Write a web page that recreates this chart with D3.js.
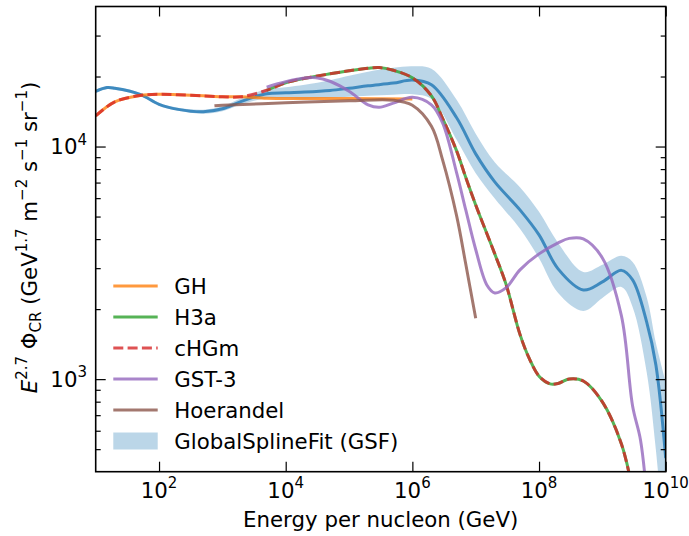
<!DOCTYPE html>
<html>
<head>
<meta charset="utf-8">
<script src="https://cdn.jsdelivr.net/npm/d3@7"></script>
<style>
  body { margin: 0; background: #fff; }
  text { font-family: "DejaVu Sans", sans-serif; fill: #000; }
</style>
</head>
<body>
<svg id="chart" width="689" height="536"></svg>
<script>
// values (energy per nucleon in GeV, E^2.7 flux)
var gsfEnergy = [1e1, 1.5e1, 2e1, 5e1, 1e2, 2e2, 5e2, 1e3, 2e3, 5e3, 1e4, 2e4, 5e4, 1e5, 2e5, 5e5,
                 1e6, 2e6, 5e6, 1e7, 2e7, 5e7, 1e8, 2e8, 5e8, 1e9, 2e9, 3e9, 5e9, 7e9, 1e10];
var gsfFlux  = [17260, 17920, 17800, 16770, 15190, 14450, 14100, 14530, 15650, 16850, 17020, 17140, 17410, 17800, 18240, 18740,
                19300, 18420, 13290, 9300, 7050, 5343, 4171, 2979, 2418, 2618, 2935, 2671, 1762, 1151, 458];
var gsfUpper = [17540, 18180, 18060, 17020, 15420, 14670, 14390, 14890, 16120, 17620, 17970, 18420, 19270, 20140, 20960, 21800,
                22130, 21590, 15880, 11360, 8568, 6689, 5238, 3853, 2890, 3100, 3390, 3190, 2257, 1431, 973];
var gsfLower = [17020, 17650, 17540, 16520, 14960, 14240, 13830, 14170, 15190, 16120, 16120, 16040, 16200, 16360, 16520, 16690,
                16770, 16000, 10690, 7683, 5980, 4429, 3308, 2348, 1965, 2235, 2491, 2044, 1074, 496, 167];

var ghEnergy = [1e1, 2e1, 5e1, 1e2, 2e2, 5e2, 1e3, 2e3, 5e3, 1e4, 1e5, 1e6];
var ghFlux   = [13550, 15570, 16570, 16770, 16690, 16520, 16360, 16360, 16120, 16100, 16070, 15990];

var h3aEnergy = [5e3, 1e4, 2e4, 5e4, 1e5, 2e5, 3e5, 5e5, 1e6, 2e6, 3e6, 5e6, 7e6, 1e7, 2e7, 3e7, 5e7, 7e7,
                 1e8, 1.5e8, 2e8, 3e8, 5e8, 1e9, 2e9, 3e9];
var h3aFlux   = [17450, 18790, 19650, 20540, 21160, 21700, 21850, 21270, 19750, 16520, 13220, 9580, 7335, 5610, 3455, 2567, 1558, 1228,
                 1030, 954, 958, 1002, 982, 798, 526, 334];

var chgmEnergy = [1e1, 2e1, 5e1, 1e2, 2e2, 5e2, 1e3, 2e3, 5e3, 1e4, 2e4, 5e4, 1e5, 2e5, 3e5, 5e5, 1e6, 2e6, 3e6, 5e6, 7e6,
                  1e7, 2e7, 3e7, 5e7, 7e7, 1e8, 1.5e8, 2e8, 3e8, 5e8, 1e9, 2e9, 3e9];
var chgmFlux   = [13550, 15570, 16570, 16770, 16690, 16520, 16360, 16360, 17450, 18790, 19650, 20540, 21160, 21700, 21850, 21270, 19750, 16520, 13220, 9580, 7335,
                  5610, 3455, 2567, 1558, 1228, 1030, 954, 958, 1002, 982, 798, 526, 334];

var gstEnergy = [5e3, 1e4, 2e4, 3e4, 5e4, 1e5, 2e5, 3e5, 5e5, 1e6, 2e6, 3e6, 5e6, 7e6, 1e7, 1.5e7, 2e7, 3e7, 5e7,
                 1e8, 2e8, 3e8, 5e8, 1e9, 2e9, 3e9, 4e9, 5e9];
var gstFlux   = [18010, 18980, 19690, 19750, 19080, 17280, 15110, 14740, 15370, 16280, 15110, 12650, 7706, 5311, 3609, 2541, 2348, 2467, 2949,
                 3455, 3853, 4029, 4009, 3320, 1870, 767, 548, 320];

var hoerEnergy = [7.5e2, 1e3, 1e4, 1e5, 5e5, 1e6, 2e6, 3e6, 5e6, 7e6, 1e7];
var hoerFlux   = [14960, 15040, 15420, 15720, 15830, 15040, 12220, 8766, 5034, 3100, 1828];

var xMajorTicks = [1e2, 1e4, 1e6, 1e8, 1e10];
var xTickExp = ["2", "4", "6", "8", "10"];
var yMajorTicks = [1e3, 1e4];
var yTickExp = ["3", "4"];
var yMinorTicks = [5e2, 6e2, 7e2, 8e2, 9e2, 2e3, 3e3, 4e3, 5e3, 6e3, 7e3, 8e3, 9e3, 2e4, 3e4];

var legendNames = ["GH", "H3a", "cHGm", "GST-3", "Hoerandel", "GlobalSplineFit (GSF)"];

// plot box in pixels (window.top is taken, hence the prefixes)
var boxLeft = 95.7, boxRight = 665.7, boxTop = 6.5, boxBottom = 471.7;
var fontBig = "21.3px", fontSup = "15px";

var svg = d3.select("#chart");
var x = d3.scaleLog().domain([1e1, 1e10]).range([boxLeft, boxRight]);
var y = d3.scaleLog().domain([400, 40000]).range([boxBottom, boxTop]);

svg.append("clipPath").attr("id", "plotclip")
  .append("rect").attr("x", boxLeft).attr("y", boxTop)
  .attr("width", boxRight - boxLeft).attr("height", boxBottom - boxTop);

var plot = svg.append("g").attr("clip-path", "url(#plotclip)");

// uncertainty band of the spline fit
var band = d3.area()
  .x(function(d) { return x(d[0]); })
  .y0(function(d) { return y(d[2]); })
  .y1(function(d) { return y(d[1]); })
  .curve(d3.curveCatmullRom.alpha(0.5));
plot.append("path")
  .datum(d3.zip(gsfEnergy, gsfUpper, gsfLower))
  .attr("d", band)
  .style("fill", "#1f77b4").style("fill-opacity", 0.3);

var line = d3.line()
  .x(function(d) { return x(d[0]); })
  .y(function(d) { return y(d[1]); })
  .curve(d3.curveCatmullRom.alpha(0.5));

function drawCurve(energy, flux, color, dash) {
  var p = plot.append("path")
    .datum(d3.zip(energy, flux))
    .attr("d", line)
    .style("fill", "none")
    .style("stroke", color)
    .style("stroke-opacity", 0.8)
    .style("stroke-width", 3);
  if (dash) p.style("stroke-dasharray", dash);
}

drawCurve(gsfEnergy, gsfFlux, "#1f77b4");
drawCurve(ghEnergy, ghFlux, "#ff7f0e");
drawCurve(h3aEnergy, h3aFlux, "#2ca02c");
drawCurve(chgmEnergy, chgmFlux, "#d62728", "10,4.3");
drawCurve(gstEnergy, gstFlux, "#9467bd");
drawCurve(hoerEnergy, hoerFlux, "#8c564b");

// ticks point inwards on all four sides
function styleAxis(g) {
  g.select(".domain").remove();
  g.selectAll(".tick line").style("stroke", "#000").style("stroke-width", 1.2);
}
svg.append("g").attr("transform", "translate(0," + boxBottom + ")")
  .call(d3.axisBottom(x).tickValues(xMajorTicks).tickSize(-10).tickFormat("")).call(styleAxis);
svg.append("g").attr("transform", "translate(0," + boxTop + ")")
  .call(d3.axisTop(x).tickValues(xMajorTicks).tickSize(-10).tickFormat("")).call(styleAxis);
svg.append("g").attr("transform", "translate(" + boxLeft + ",0)")
  .call(d3.axisLeft(y).tickValues(yMajorTicks).tickSize(-10).tickFormat("")).call(styleAxis);
svg.append("g").attr("transform", "translate(" + boxLeft + ",0)")
  .call(d3.axisLeft(y).tickValues(yMinorTicks).tickSize(-5).tickFormat("")).call(styleAxis);
svg.append("g").attr("transform", "translate(" + boxRight + ",0)")
  .call(d3.axisRight(y).tickValues(yMajorTicks).tickSize(-10).tickFormat("")).call(styleAxis);
svg.append("g").attr("transform", "translate(" + boxRight + ",0)")
  .call(d3.axisRight(y).tickValues(yMinorTicks).tickSize(-5).tickFormat("")).call(styleAxis);

svg.append("rect")
  .attr("x", boxLeft).attr("y", boxTop).attr("width", boxRight - boxLeft).attr("height", boxBottom - boxTop)
  .style("fill", "none").style("stroke", "#000").style("stroke-width", 1.6);

// tick labels as 10^n
xMajorTicks.forEach(function(v, i) {
  var t = svg.append("text").attr("x", x(v)).attr("y", 497.5)
    .attr("text-anchor", "middle").style("font-size", fontBig);
  t.append("tspan").text("10");
  t.append("tspan").attr("dy", -9.5).style("font-size", fontSup).text(xTickExp[i]);
});
yMajorTicks.forEach(function(v, i) {
  var t = svg.append("text").attr("x", 87).attr("y", y(v) + 7.6)
    .attr("text-anchor", "end").style("font-size", fontBig);
  t.append("tspan").text("10");
  t.append("tspan").attr("dy", -9.5).style("font-size", fontSup).text(yTickExp[i]);
});

svg.append("text").attr("x", (boxLeft + boxRight) / 2).attr("y", 526.7)
  .attr("text-anchor", "middle").style("font-size", fontBig)
  .text("Energy per nucleon (GeV)");

var ylab = svg.append("text")
  .attr("transform", "translate(36.5,237.5) rotate(-90)")
  .attr("text-anchor", "middle").style("font-size", fontBig);
ylab.append("tspan").style("font-style", "italic").text("E");
ylab.append("tspan").attr("dy", -9.5).style("font-size", fontSup).text("2.7");
ylab.append("tspan").attr("dy", 9.5).text(" \u03A6");
ylab.append("tspan").attr("dy", 4).style("font-size", fontSup).text("CR");
ylab.append("tspan").attr("dy", -4).text(" (GeV");
ylab.append("tspan").attr("dy", -9.5).style("font-size", fontSup).text("1.7");
ylab.append("tspan").attr("dy", 9.5).text(" m");
ylab.append("tspan").attr("dy", -9.5).style("font-size", fontSup).text("\u22122");
ylab.append("tspan").attr("dy", 9.5).text(" s");
ylab.append("tspan").attr("dy", -9.5).style("font-size", fontSup).text("\u22121");
ylab.append("tspan").attr("dy", 9.5).text(" sr");
ylab.append("tspan").attr("dy", -9.5).style("font-size", fontSup).text("\u22121");
ylab.append("tspan").attr("dy", 9.5).text(")");

// legend, no frame
var legendColors = ["#ff7f0e", "#2ca02c", "#d62728", "#9467bd", "#8c564b", "#1f77b4"];
var legend = svg.append("g");
legendNames.forEach(function(name, i) {
  var cy = 286 + i * 31;
  if (i < 5) {
    var l = legend.append("line").attr("x1", 113.3).attr("x2", 157.7).attr("y1", cy).attr("y2", cy)
      .style("stroke", legendColors[i]).style("stroke-opacity", 0.8).style("stroke-width", 3);
    if (name == "cHGm") l.style("stroke-dasharray", "10,4.3");
  } else {
    legend.append("rect").attr("x", 113.3).attr("y", cy - 8.5).attr("width", 44.4).attr("height", 17)
      .style("fill", legendColors[i]).style("fill-opacity", 0.3);
  }
  legend.append("text").attr("x", 174.3).attr("y", cy + 7.5).style("font-size", fontBig).text(name);
});
</script>
</body>
</html>
